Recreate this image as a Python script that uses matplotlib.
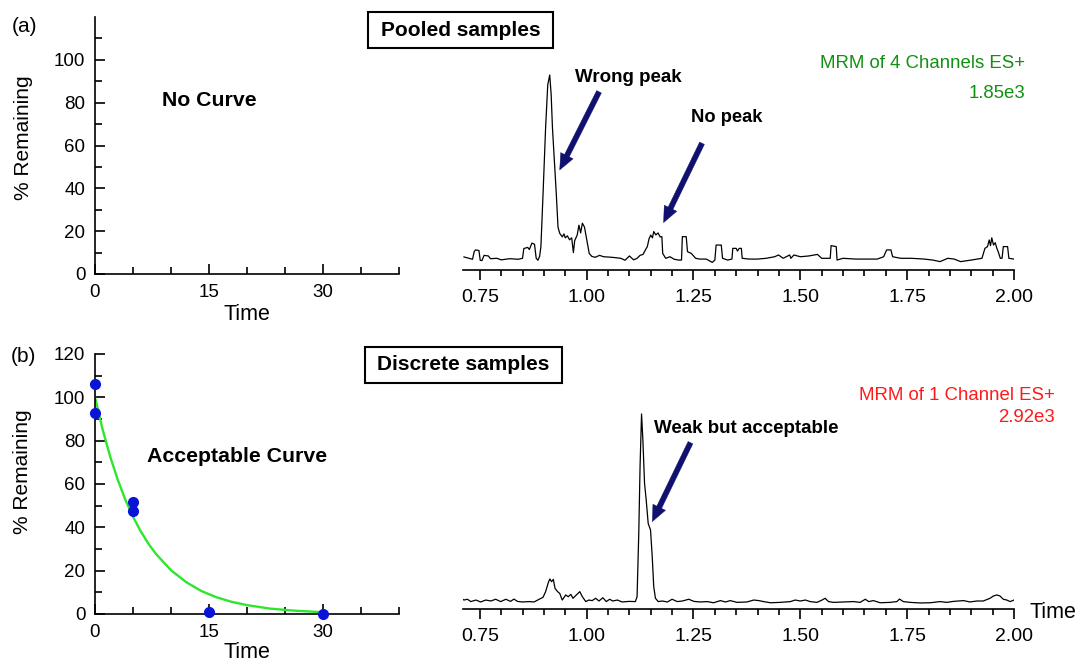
import matplotlib
matplotlib.use("Agg")
import matplotlib.pyplot as plt
from matplotlib.patches import Rectangle
from matplotlib.ticker import MultipleLocator, FixedLocator

plt.rcParams['font.family'] = ['Liberation Sans', 'DejaVu Sans']

# ---------------- data ----------------
# (b) stability data points (% remaining vs time)
pts_time = [0, 0, 5, 5, 15, 30]
pts_remaining = [106, 93, 51.5, 47.5, 1.1, 0.2]

# (b) fitted decay curve
fit_time = [0, 1, 2, 3, 4, 5, 6, 7, 8, 10, 12, 14, 16, 18, 20, 23, 26, 30]
fit_remaining = [100, 85.2, 72.6, 61.9, 52.7, 44.9, 38.3, 32.6, 27.8, 20.2,
                 14.7, 10.6, 7.7, 5.6, 4.1, 2.5, 1.6, 0.8]

# (a) pooled-sample chromatogram (relative intensity, %)
pooled_rt = [0.713, 0.725, 0.733, 0.737, 0.740, 0.748, 0.751, 0.755, 0.760, 0.770,
             0.775, 0.790, 0.800, 0.820, 0.840, 0.850, 0.853, 0.862, 0.866, 0.872,
             0.878, 0.882, 0.886, 0.890, 0.893, 0.898, 0.904, 0.909, 0.9136, 0.917,
             0.920, 0.924, 0.926, 0.929, 0.933, 0.937, 0.943, 0.947, 0.950, 0.955,
             0.960, 0.965, 0.969, 0.972, 0.978, 0.982, 0.986, 0.990, 0.995, 1.000,
             1.006, 1.012, 1.020, 1.030, 1.040, 1.060, 1.080, 1.090, 1.100, 1.110,
             1.118, 1.125, 1.132, 1.138, 1.142, 1.146, 1.150, 1.154, 1.157, 1.162,
             1.167, 1.172, 1.176, 1.178, 1.185, 1.195, 1.205, 1.215, 1.222, 1.224,
             1.233, 1.236, 1.245, 1.255, 1.265, 1.280, 1.294, 1.300, 1.303, 1.315,
             1.318, 1.330, 1.340, 1.342, 1.350, 1.353, 1.357, 1.362, 1.364, 1.380,
             1.400, 1.420, 1.440, 1.449, 1.460, 1.475, 1.478, 1.485, 1.500, 1.520,
             1.540, 1.550, 1.570, 1.572, 1.584, 1.586, 1.600, 1.630, 1.660, 1.680,
             1.695, 1.702, 1.712, 1.716, 1.735, 1.760, 1.790, 1.810, 1.827, 1.845,
             1.860, 1.875, 1.900, 1.925, 1.932, 1.938, 1.942, 1.945, 1.948, 1.952,
             1.956, 1.960, 1.963, 1.968, 1.972, 1.975, 1.985, 1.988, 2.000]
pooled_int = [6.7, 6.0, 5.5, 9.5, 10.3, 10.0, 5.0, 4.8, 7.5, 7.2,
              5.8, 6.0, 5.2, 5.8, 5.5, 6.0, 11.0, 11.6, 10.5, 13.8,
              13.2, 6.0, 5.0, 7.0, 12.0, 39.0, 73.0, 95.0, 100.0, 90.0,
              73.0, 58.0, 50.0, 39.0, 22.0, 18.8, 17.0, 18.5, 16.5, 17.5,
              15.5, 16.5, 8.9, 15.0, 18.0, 23.0, 19.0, 24.0, 22.0, 16.0,
              8.5, 7.0, 6.5, 7.5, 6.8, 6.5, 6.0, 5.0, 7.2, 5.2,
              6.0, 7.5, 8.0, 10.5, 12.0, 16.0, 17.9, 16.5, 19.7, 18.0,
              19.0, 17.0, 17.1, 8.5, 6.0, 6.8, 5.5, 5.1, 5.1, 17.1,
              17.1, 9.4, 8.5, 6.0, 5.6, 5.6, 3.9, 5.1, 12.8, 12.8,
              6.0, 5.1, 5.6, 11.1, 11.1, 9.7, 11.1, 11.1, 6.0, 5.6,
              5.6, 6.0, 6.8, 7.7, 6.0, 7.7, 6.0, 7.7, 6.8, 7.2,
              8.0, 6.0, 6.0, 12.5, 12.0, 5.1, 6.0, 5.6, 5.6, 5.6,
              6.8, 10.3, 10.3, 6.8, 6.0, 6.0, 5.6, 5.1, 4.3, 6.0,
              5.6, 4.3, 5.1, 6.0, 11.1, 12.0, 15.4, 12.5, 16.5, 12.8,
              14.0, 11.0, 9.4, 6.0, 6.0, 12.0, 12.0, 6.0, 5.6]

# (b) discrete-sample chromatogram (relative intensity, %)
discrete_rt = [0.706, 0.713, 0.721, 0.729, 0.741, 0.752, 0.764, 0.776, 0.787, 0.799,
               0.811, 0.822, 0.830, 0.838, 0.850, 0.865, 0.877, 0.889, 0.898, 0.904,
               0.911, 0.914, 0.918, 0.922, 0.926, 0.932, 0.937, 0.943, 0.951, 0.957,
               0.963, 0.968, 0.976, 0.984, 0.990, 0.998, 1.005, 1.013, 1.021, 1.029,
               1.038, 1.046, 1.054, 1.061, 1.072, 1.083, 1.099, 1.114, 1.118, 1.122,
               1.125, 1.1285, 1.1316, 1.1355, 1.1394, 1.144, 1.1495, 1.1535, 1.157, 1.161,
               1.1675, 1.177, 1.189, 1.200, 1.212, 1.224, 1.239, 1.251, 1.266, 1.282,
               1.297, 1.313, 1.325, 1.336, 1.352, 1.375, 1.391, 1.403, 1.414, 1.430,
               1.453, 1.477, 1.488, 1.500, 1.512, 1.523, 1.539, 1.551, 1.558, 1.566,
               1.578, 1.601, 1.625, 1.640, 1.652, 1.660, 1.671, 1.687, 1.710, 1.726,
               1.732, 1.741, 1.757, 1.780, 1.804, 1.827, 1.843, 1.858, 1.882, 1.897,
               1.913, 1.928, 1.944, 1.952, 1.960, 1.967, 1.975, 1.983, 1.991, 2.000]
discrete_int = [5.5, 4.6, 5.0, 3.8, 4.6, 3.6, 4.6, 4.1, 5.0, 3.8,
                5.0, 3.9, 5.1, 3.9, 3.6, 3.8, 3.6, 5.0, 6.0, 8.9,
                14.0, 15.4, 14.0, 15.2, 10.6, 8.9, 8.0, 4.6, 7.2, 6.3,
                7.5, 5.5, 7.2, 8.9, 6.3, 3.8, 4.6, 4.3, 5.5, 4.1,
                5.8, 3.8, 5.0, 4.1, 4.6, 3.6, 3.9, 3.8, 6.3, 38.8,
                73.0, 100.0, 86.7, 64.4, 55.9, 43.9, 40.5, 26.8, 11.5, 5.5,
                3.8, 4.1, 3.6, 5.0, 3.8, 4.1, 5.0, 3.9, 3.6, 3.8,
                3.2, 4.3, 3.6, 4.3, 3.4, 3.6, 4.6, 4.3, 3.8, 3.2,
                3.4, 3.8, 4.6, 4.1, 4.6, 3.8, 3.4, 4.6, 5.5, 3.8,
                3.4, 3.6, 3.8, 3.4, 5.0, 3.8, 4.3, 3.2, 3.4, 3.8,
                5.1, 3.8, 3.4, 3.1, 3.2, 3.8, 3.4, 3.9, 4.3, 3.6,
                4.1, 4.1, 5.5, 6.7, 7.2, 6.7, 5.0, 4.6, 3.8, 4.6]

rt_ticks = [0.75, 1.00, 1.25, 1.50, 1.75, 2.00]
rt_tick_labels = ['0.75', '1.00', '1.25', '1.50', '1.75', '2.00']
time_ticks = [0, 15, 30]

# ---------------- figure ----------------
W, H = 1075, 664
fig = plt.figure(figsize=(W / 100, H / 100), dpi=100)


def frac(x0, y_top, x1, y_bottom):
    return [x0 / W, 1 - y_bottom / H, (x1 - x0) / W, (y_bottom - y_top) / H]


NAVY = '#10106e'
LW = 1.2


def style_time_axis(ax, ymajor, yminor, ylab_xy, xlab_y):
    ax.set_xlim(0, 40)
    ax.set_ylim(0, 120)
    for s in ['top', 'right']:
        ax.spines[s].set_visible(False)
    for s in ['left', 'bottom']:
        ax.spines[s].set_linewidth(LW)
    ax.xaxis.set_major_locator(FixedLocator(time_ticks))
    ax.xaxis.set_minor_locator(FixedLocator([5, 10, 20, 25, 35, 40]))
    ax.yaxis.set_major_locator(FixedLocator(ymajor))
    ax.yaxis.set_minor_locator(FixedLocator(yminor))
    ax.tick_params(which='major', direction='in', length=7.5, width=LW,
                   labelsize=13.5, pad=7)
    ax.tick_params(which='minor', direction='in', length=5, width=LW)
    ax.tick_params(axis='y', which='major', pad=7)
    ax.set_ylabel('% Remaining', fontsize=15)
    ax.yaxis.set_label_coords(*ylab_xy)
    ax.set_xlabel('Time', fontsize=15.5)
    ax.xaxis.set_label_coords(0.5, xlab_y)


def style_rt_axis(ax):
    ax.set_xlim(0.71, 2.0)
    ax.set_ylim(0, 120)
    for s in ['top', 'right', 'left']:
        ax.spines[s].set_visible(False)
    ax.spines['bottom'].set_linewidth(LW)
    ax.set_yticks([])
    ax.set_xticks(rt_ticks)
    ax.set_xticklabels(rt_tick_labels)
    ax.xaxis.set_minor_locator(MultipleLocator(0.05))
    ax.tick_params(which='major', direction='out', length=7.5, width=LW,
                   labelsize=14, pad=6)
    ax.tick_params(which='minor', direction='out', length=4, width=LW)


def arrow(ax, tail, head):
    ax.annotate('', xy=head, xytext=tail,
                arrowprops=dict(width=3.8, headwidth=10, headlength=11.5,
                                facecolor=NAVY, edgecolor=NAVY, linewidth=0.3,
                                shrink=0))


# ---- (a) left: no curve ----
ax1 = fig.add_axes(frac(95, 17, 399, 274))
style_time_axis(ax1, [0, 20, 40, 60, 80, 100], [10, 30, 50, 70, 90, 110],
                (-0.204, 0.53), -0.118)
ax1.text(8.8, 81, 'No Curve', fontsize=15.3, fontweight='bold', va='center', ha='left')

# ---- (a) right: pooled chromatogram ----
ax2 = fig.add_axes(frac(462.7, 36, 1014, 270))
style_rt_axis(ax2)
ax2.plot(pooled_rt, pooled_int, color='black', lw=0.9)
ax2.text(0.972, 98.5, 'Wrong peak', fontsize=13.5, fontweight='bold', va='center', ha='left')
ax2.text(1.245, 78, 'No peak', fontsize=13.2, fontweight='bold', va='center', ha='left')
arrow(ax2, (1.029, 91.4), (0.937, 51.3))
arrow(ax2, (1.270, 65.0), (1.180, 24.3))

# ---- (b) left: acceptable curve ----
ax3 = fig.add_axes(frac(95, 354, 399, 614))
style_time_axis(ax3, [0, 20, 40, 60, 80, 100, 120], [10, 30, 50, 70, 90, 110],
                (-0.207, 0.548), -0.108)
ax3.plot(fit_time, fit_remaining, color='#2ee62e', lw=1.7, zorder=2)
ax3.plot(pts_time, pts_remaining, 'o', color='#0a14d8', markersize=7,
         clip_on=False, zorder=3)
ax3.text(6.8, 72.6, 'Acceptable Curve', fontsize=15.3, fontweight='bold',
         va='center', ha='left')

# ---- (b) right: discrete chromatogram ----
ax4 = fig.add_axes(frac(462.7, 375, 1014, 609))
style_rt_axis(ax4)
ax4.plot(discrete_rt, discrete_int, color='black', lw=0.9)
ax4.text(1.158, 92.8, 'Weak but acceptable', fontsize=13.5, fontweight='bold',
         va='center', ha='left')
arrow(ax4, (1.243, 85.3), (1.1535, 44.8))

# ---- figure-level texts ----
for (x0, y0, x1, y1) in [(368, 12, 553, 48), (365, 347, 562, 383)]:
    fig.patches.append(Rectangle((x0 / W, 1 - y1 / H), (x1 - x0) / W, (y1 - y0) / H,
                                 transform=fig.transFigure, facecolor='white',
                                 edgecolor='black', linewidth=1.5))
fig.text(460.5 / W, 1 - 30 / H, 'Pooled samples', fontsize=15, fontweight='bold',
         ha='center', va='center')
fig.text(463.5 / W, 1 - 365 / H, 'Discrete samples', fontsize=15, fontweight='bold',
         ha='center', va='center')
fig.text(12 / W, 1 - 27 / H, '(a)', fontsize=15, ha='left', va='center')
fig.text(11 / W, 1 - 357 / H, '(b)', fontsize=15, ha='left', va='center')

GREEN = '#119111'
RED = '#ff1a1a'
fig.text(1025 / W, 1 - 63 / H, 'MRM of 4 Channels ES+', fontsize=13.4, color=GREEN,
         ha='right', va='center')
fig.text(1025 / W, 1 - 93 / H, '1.85e3', fontsize=13.4, color=GREEN,
         ha='right', va='center')
fig.text(1055 / W, 1 - 395 / H, 'MRM of 1 Channel ES+', fontsize=13.4, color=RED,
         ha='right', va='center')
fig.text(1055 / W, 1 - 418 / H, '2.92e3', fontsize=13.4, color=RED,
         ha='right', va='center')
fig.text(1030 / W, 1 - 612 / H, 'Time', fontsize=15.5, ha='left', va='center')

fig.savefig('out.png', dpi=100)
